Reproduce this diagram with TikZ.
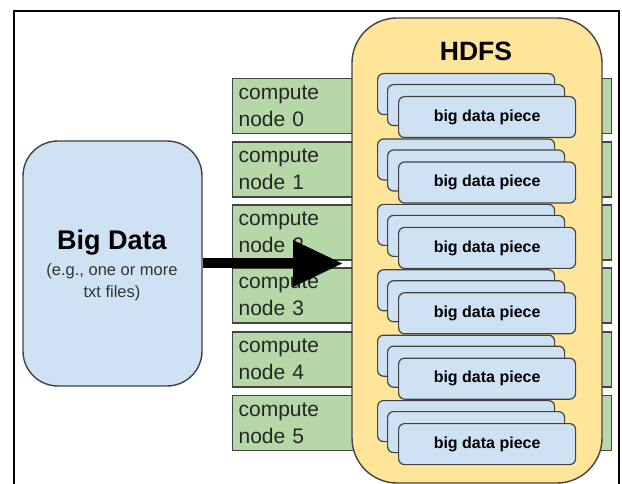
\documentclass[tikz,border=0pt]{standalone}
\usepackage{fontspec}
\setmainfont{Liberation Sans}
\usetikzlibrary{arrows.meta}
\definecolor{cgreen}{HTML}{B6D7A8}
\definecolor{cblue}{HTML}{CFE2F3}
\definecolor{cyellow}{HTML}{FFE599}
\definecolor{cborder}{HTML}{434343}
\tikzset{
  frameline/.style={line width=1.8pt, draw=black},
  computebox/.style={draw=cborder, line width=1.2pt, fill=cgreen, rectangle,
    minimum height=55pt, text width=367pt, inner xsep=6pt, inner ysep=0pt, align=left,
    font=\fontsize{21}{27}\selectfont, text=black!85},
  hdfsbox/.style={draw=cborder, line width=1.4pt, fill=cyellow, rounded corners=45pt,
    minimum width=250pt, minimum height=465pt},
  piecebox/.style={draw=cborder, line width=1.2pt, fill=cblue, rounded corners=6pt,
    minimum width=177pt, minimum height=41pt, inner sep=0pt, anchor=north west,
    font=\fontsize{16}{18}\selectfont\bfseries},
  bigbox/.style={draw=cborder, line width=1.4pt, fill=cblue, rounded corners=35pt,
    minimum width=179pt, minimum height=245pt},
  bigarrow/.style={line width=10pt, -{Triangle[length=50pt,width=44pt]}}
}
\begin{document}
\begin{tikzpicture}[x=1pt,y=-1pt]
\useasboundingbox (0,0) rectangle (622,484);
\fill[white] (0,0) rectangle (622,484);
\draw[frameline] (14,484) -- (14,11) -- (619,11) -- (619,484);
% compute nodes
\foreach \i/\y in {0/106,1/169.5,2/232.5,3/295.5,4/359.5,5/423}
  \node[computebox, anchor=west] (c\i) at (232,\y) {compute\\node \i};
% HDFS
\node[hdfsbox] (hdfs) at (477,250.5) {};
\node[font=\fontsize{26.5}{28}\selectfont\bfseries] (hdfst) at (476,51) {HDFS};
% stacks
\foreach \k in {0,...,5}{
  \pgfmathsetmacro{\t}{73+65.4*\k}
  \node[piecebox] (pa\k) at (377,\t) {};
  \node[piecebox] (pb\k) at (387,\t+11) {};
  \node[piecebox] (pc\k) at (398,\t+23) {big data piece};
}
% Big Data
\node[bigbox] (bd) at (112.5,263.5) {};
\node[font=\fontsize{27}{30}\selectfont\bfseries] (bdt) at (112,243) {Big Data};
\node[font=\fontsize{16.5}{22}\selectfont, text=black!80, align=center] (bds) at (112,282) {(e.g., one or more\\txt files)};
% arrow
\coordinate (tip) at (343,263.5);
\draw[bigarrow] (bd.east) -- (tip);
\end{tikzpicture}
\end{document}
